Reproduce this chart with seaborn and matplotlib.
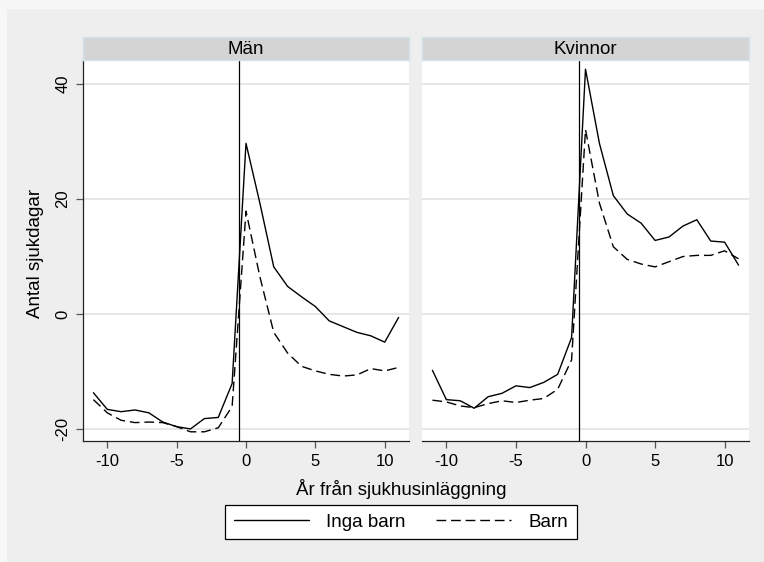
import matplotlib
matplotlib.use("Agg")
import matplotlib.pyplot as plt
from matplotlib.patches import Rectangle
import seaborn as sns
import pandas as pd

# ---- data ----
years = list(range(-11, 12))
panels = ["Män", "Kvinnor"]
groups = ["Inga barn", "Barn"]

man_inga = [-13.7, -16.6, -17.0, -16.7, -17.2, -18.8, -19.6, -20.0, -18.2, -18.0, -12.1,
            29.7, 19.3, 8.2, 4.8, 3.0, 1.3, -1.2, -2.2, -3.2, -3.8, -4.9, -0.6]
man_barn = [-14.9, -17.2, -18.5, -18.9, -18.8, -18.9, -19.6, -20.5, -20.5, -19.8, -16.1,
            17.9, 6.5, -3.2, -6.8, -9.1, -9.9, -10.5, -10.8, -10.6, -9.5, -9.9, -9.3]
kv_inga = [-9.8, -14.9, -15.1, -16.4, -14.4, -13.8, -12.5, -12.8, -11.9, -10.5, -4.1,
           42.6, 29.7, 20.6, 17.4, 15.8, 12.8, 13.4, 15.3, 16.4, 12.7, 12.5, 8.5]
kv_barn = [-15.0, -15.3, -16.0, -16.3, -15.6, -15.1, -15.4, -15.0, -14.7, -13.1, -8.0,
           32.1, 19.3, 11.7, 9.5, 8.7, 8.2, 9.1, 10.0, 10.2, 10.2, 11.0, 9.6]

y_ticks = [-20, 0, 20, 40]
x_ticks = [-10, -5, 0, 5, 10]
x_label = "År från sjukhusinläggning"
y_label = "Antal sjukdagar"

series = {("Män", "Inga barn"): man_inga, ("Män", "Barn"): man_barn,
          ("Kvinnor", "Inga barn"): kv_inga, ("Kvinnor", "Barn"): kv_barn}
rows = []
for (p, g), vals in series.items():
    for yr, v in zip(years, vals):
        rows.append({"panel": p, "group": g, "year": yr, "value": v})
df = pd.DataFrame(rows)

# ---- style ----
sns.set_theme(style="white")
plt.rcParams["font.family"] = ["Liberation Sans", "DejaVu Sans"]
plt.rcParams["axes.unicode_minus"] = False
plt.rcParams["text.color"] = "black"

W, H = 764, 562
fig = plt.figure(figsize=(W / 100, H / 100), dpi=100)
fig.patch.set_facecolor("#F7F7F7")
fig.add_artist(Rectangle((7 / W, 0), 1, 553 / H, transform=fig.transFigure,
                         facecolor="#EEEEEE", edgecolor="none", zorder=-10))


def fr(x0, y0, x1, y1):
    return [x0 / W, 1 - y1 / H, (x1 - x0) / W, (y1 - y0) / H]


axes = [fig.add_axes(fr(83, 60, 409, 441)), fig.add_axes(fr(422, 60, 749, 441))]
strips = [fig.add_axes(fr(83, 37, 409, 60)), fig.add_axes(fr(422, 37, 749, 60))]

dash_map = {"Inga barn": "", "Barn": (7, 3.5)}

for i, (ax, st, p) in enumerate(zip(axes, strips, panels)):
    ax.set_facecolor("white")
    sub = df[df["panel"] == p]
    sns.lineplot(data=sub, x="year", y="value", style="group", style_order=groups,
                 dashes=dash_map, color="black", linewidth=1.0, ax=ax, legend=False)
    ax.axvline(-0.5, color="black", lw=0.9, zorder=3)
    ax.set_xlim(-11.75, 11.75)
    ax.set_ylim(-22.1, 44.2)
    ax.set_xticks(x_ticks)
    ax.set_xticklabels([str(t) for t in x_ticks])
    ax.set_yticks(y_ticks)
    ax.yaxis.grid(True, color="#E4E4E4", lw=1.3)
    ax.set_axisbelow(True)
    ax.set_xlabel("")
    ax.set_ylabel("")
    for s in ["top", "right"]:
        ax.spines[s].set_visible(False)
    ax.spines["bottom"].set_color("#222222")
    ax.spines["bottom"].set_linewidth(0.9)
    ax.tick_params(axis="x", bottom=True, length=5, width=0.9, color="#555555",
                   labelsize=12, pad=4, labelcolor="black")
    if i == 0:
        ax.spines["left"].set_color("#222222")
        ax.spines["left"].set_linewidth(0.9)
        ax.tick_params(axis="y", left=True, length=5, width=0.9, color="#555555",
                       labelsize=12, pad=4, labelcolor="black")
        ax.set_yticklabels([str(t) for t in y_ticks], rotation=90, va="center")
    else:
        ax.spines["left"].set_visible(False)
        ax.tick_params(axis="y", left=False, labelleft=False)

    st.set_facecolor("#D4D4D4")
    st.set_xticks([])
    st.set_yticks([])
    for s in st.spines.values():
        s.set_color("#D2E4EA")
        s.set_linewidth(1.0)
    st.text(0.5, 0.47, p, ha="center", va="center", fontsize=13.5, color="black",
            transform=st.transAxes)

lines = axes[0].get_lines()[:2]
leg = fig.legend(lines, groups, loc="center", bbox_to_anchor=(401 / W, 1 - 522 / H),
                 ncol=2, fontsize=13.5, frameon=True, fancybox=False, handlelength=4.0,
                 handletextpad=0.95, columnspacing=1.6, borderpad=0.45)
leg.get_frame().set_edgecolor("black")
leg.get_frame().set_linewidth(0.9)
leg.get_frame().set_facecolor("white")
leg.get_frame().set_alpha(1)

fig.text(401 / W, 1 - 489 / H, x_label, ha="center", va="center", fontsize=13.5,
         color="black")
fig.text(36 / W, 1 - 253 / H, y_label, ha="center", va="center", rotation=90,
         fontsize=13.5, color="black")

fig.savefig("out.png", dpi=100, facecolor=fig.get_facecolor())
